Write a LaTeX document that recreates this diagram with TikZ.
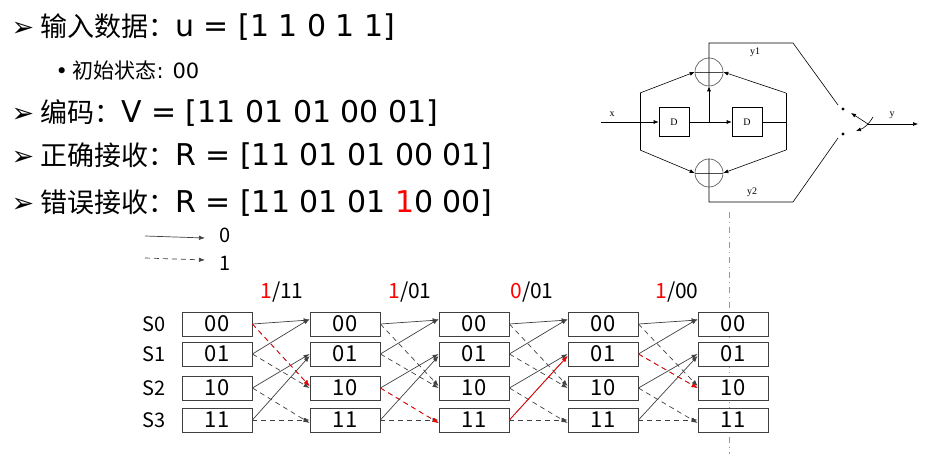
\documentclass[tikz,border=0pt]{standalone}
\usepackage{fontspec}
\setmainfont{Noto Sans CJK SC}
\newfontfamily\symf{DejaVu Sans}
\newfontfamily\latf{DejaVu Sans}
\newfontfamily\serf{Liberation Serif}
\usetikzlibrary{arrows.meta}
\newcommand\lt[1]{{\latf\fontsize{30}{30}\selectfont #1}}
\begin{document}
\begin{tikzpicture}[x=1pt,y=-1pt,
  st/.style={draw=black!75,fill=white,line width=0.8pt,minimum width=70pt,minimum height=24pt,inner sep=0pt,font=\fontsize{22}{22}\selectfont},
  tr/.style={draw=black!75,line width=0.7pt,-{Latex[length=6pt]}},
  trd/.style={tr,dashed,dash pattern=on 5pt off 4pt},
  rd/.style={draw=red},
  ln/.style={line width=0.6pt},
  ar/.style={line width=0.6pt,-{Latex[length=5pt,width=4pt]}},
  big/.style={anchor=west,font=\fontsize{27}{27}\selectfont}]
\useasboundingbox (0,0) rectangle (935,454);
% dashed gray vertical
\coordinate (g1) at (729,212); \coordinate (g2) at (729,454);
\draw[black!40,dash pattern=on 6pt off 4pt on 1pt off 4pt] (g1)--(g2);
% text
\node[big] (t1) at (8,27) {{\symf ➢} 输入数据：\lt{u = [1 1 0 1 1]}};
\node[anchor=west,font=\fontsize{21}{21}\selectfont] (t2) at (52,70) {{\latf •} 初始状态{\latf : 00}};
\node[big] (t3) at (8,113) {{\symf ➢} 编码：\lt{V = [11 01 01 00 01]}};
\node[big] (t4) at (8,156) {{\symf ➢} 正确接收：\lt{R = [11 01 01 00 01]}};
\node[big] (t5) at (8,203) {{\symf ➢} 错误接收：\lt{R = [11 01 01 \textcolor{red}{1}0 00]}};
% legend
\coordinate (la) at (145,236); \coordinate (lb) at (205,238);
\coordinate (lc) at (145,258); \coordinate (ld) at (205,260);
\draw[tr] (la)--(lb); \draw[trd] (lc)--(ld);
\node[font=\fontsize{20}{20}\selectfont] (l0) at (225,235) {0};
\node[font=\fontsize{20}{20}\selectfont] (l1) at (225,263) {1};
% trellis
\foreach \c/\x in {1/217,2/345,3/474,4/603,5/733}{
  \foreach \r/\y/\t in {0/324/00,1/354/01,2/388/10,3/420/11}{
    \node[st] (n\c\r) at (\x,\y) {\t};}}
\foreach \r/\y in {0/324,1/354,2/388,3/420}{
  \node[font=\fontsize{20}{20}\selectfont] (s\r) at (154,\y) {S\r};}
\foreach \x/\a/\b in {282/1/11,410/1/01,532/0/01,677/1/00}{
  \node[font=\fontsize{21}{21}\selectfont] at (\x,292) {\textcolor{red}{\a}/\b};}
\foreach \c/\d in {1/2,2/3,3/4,4/5}{
  \draw[tr] (n\c0.east)--([yshift=4pt]n\d0.west);
  \draw[tr] (n\c1.east)--([yshift=5pt]n\d0.west);
  \draw[trd] (n\c0.east)--([yshift=2pt]n\d2.west);
  \draw[trd] (n\c1.east)--([yshift=0pt]n\d2.west);
  \draw[tr] (n\c2.east)--([yshift=0pt]n\d1.west);
  \draw[tr] (n\c3.east)--([yshift=-2pt]n\d1.west);
  \draw[trd] (n\c2.east)--([yshift=-3pt]n\d3.west);
  \draw[trd] (n\c3.east)--([yshift=0pt]n\d3.west);
}
\draw[trd,rd] (n10.east)--([yshift=2pt]n22.west);
\draw[trd,rd] (n22.east)--([yshift=-3pt]n33.west);
\draw[tr,rd] (n33.east)--([yshift=-2pt]n41.west);
\draw[trd,rd] (n41.east)--([yshift=0pt]n52.west);
% encoder
\begin{scope}[font=\serf\fontsize{10}{10}\selectfont]
\node[draw,ln,minimum width=30pt,minimum height=29pt,inner sep=0pt] (d1) at (674,122) {D};
\node[draw,ln,minimum width=30pt,minimum height=29pt,inner sep=0pt] (d2) at (747,122) {D};
\node[draw=black!70,circle,ln,minimum size=28pt,inner sep=0pt] (a1) at (709,72) {};
\node[draw=black!70,circle,ln,minimum size=28pt,inner sep=0pt] (a2) at (709,173) {};
\draw[ln,black!70] (a1.west)--(a1.east) (a2.west)--(a2.east);
\coordinate (xin) at (601,122);
\coordinate (j2) at (709,122); \coordinate (j3) at (786,122);
\coordinate (lt) at (640,93); \coordinate (lb2) at (640,150);
\coordinate (rt) at (786,93); \coordinate (rb) at (786,150);
\draw[ar] (xin)--(d1.west);
\draw[ln] (d1.east)--(j2); \draw[ar] (j2)--(d2.west);
\draw[ln] (d2.east)--(j3);
\draw[ar] (j2)--(a1.south);
\draw[ln] (lt)--(lb2) (rt)--(rb);
\draw[ar] (lt)--(a1.west); \draw[ar] (lb2)--(a2.west);
\draw[ar] (rt)--(a1.east); \draw[ar] (rb)--(a2.east);
\coordinate (tp2) at (793,43); \coordinate (bt2) at (793,202);
\coordinate (sw1) at (843,109); \coordinate (sw2) at (843,134);
\draw[ln] (a1.south)--(a1.north)|-(tp2)--(838,105);
\draw[ln] (a2.north)--(a2.south)|-(bt2)--(838,138);
\fill (sw1) circle (1.6pt); \fill (sw2) circle (1.6pt);
\coordinate (p) at (868,124); \coordinate (yo) at (918,124);
\draw[ar] (p)--(yo);
\draw[ar] (p)--(851,113);
\draw[ar] (873,117) to[bend left=20] (856,131);
\node (x) at (612,114) {x};
\node (y) at (892,115) {y};
\node (y1) at (755,52) {y1};
\node (y2) at (752,192) {y2};
\end{scope}
\end{tikzpicture}
\end{document}
